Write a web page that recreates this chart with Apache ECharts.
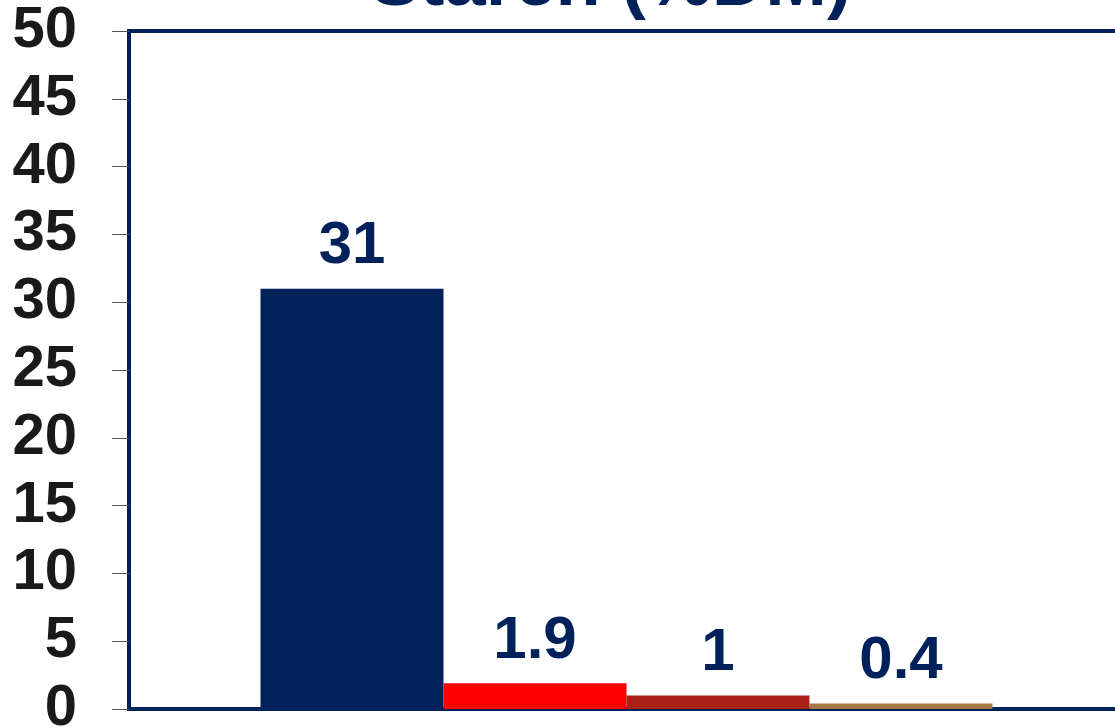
<!DOCTYPE html>
<html>
<head>
<meta charset="utf-8">
<script src="https://cdn.jsdelivr.net/npm/echarts@6/dist/echarts.min.js"></script>
<style>html,body{margin:0;padding:0;background:#fff;}#chart{width:1115px;height:728px;}</style>
</head>
<body>
<div id="chart"></div>
<script>
const titleText = 'Starch (%DM)';
const categories = ['Starch'];
const seriesNames = ['A', 'B', 'C', 'D'];
const seriesValues = [31, 1.9, 1, 0.4];
const seriesLabels = ['31', '1.9', '1', '0.4'];
const seriesColors = ['#00215A', '#FF0000', '#AA2216', '#A87842'];
const yTicks = [0, 5, 10, 15, 20, 25, 30, 35, 40, 45, 50];

const chart = echarts.init(document.getElementById('chart'));
chart.setOption({
  animation: false,
  backgroundColor: '#ffffff',
  title: {
    text: titleText,
    left: 606, top: -57, textAlign: 'center',
    textStyle: { fontFamily: 'Liberation Sans, Arial', fontWeight: 'bold', fontSize: 74, color: '#00215A' }
  },
  grid: { left: 129, top: 31, bottom: 19, right: -9, show: true, borderColor: '#00215A', borderWidth: 4, backgroundColor: 'transparent', containLabel: false, outerBoundsMode: 'none' },
  xAxis: {
    type: 'category', data: categories,
    axisLine: { show: false }, axisTick: { show: false }, axisLabel: { show: false }
  },
  yAxis: {
    type: 'value', min: 0, max: 50, interval: 5,
    axisLine: { show: false },
    axisTick: { show: true, inside: false, length: 17, lineStyle: { color: '#555555', width: 1 } },
    splitLine: { show: false },
    axisLabel: {
      margin: 52,
      fontFamily: 'Liberation Sans, Arial', fontWeight: 'bold', fontSize: 58, color: '#1a1a1a',
      formatter: v => yTicks.includes(v) ? String(v) : ''
    }
  },
  series: seriesValues.map((v, i) => ({
    name: seriesNames[i],
    type: 'bar',
    data: [v],
    barWidth: 183,
    barGap: '0%',
    itemStyle: { color: seriesColors[i] },
    label: {
      show: true, position: 'top', distance: 12,
      formatter: () => seriesLabels[i],
      fontFamily: 'Liberation Sans, Arial', fontWeight: 'bold', fontSize: 60, color: '#00215A'
    }
  }))
});
</script>
</body>
</html>
